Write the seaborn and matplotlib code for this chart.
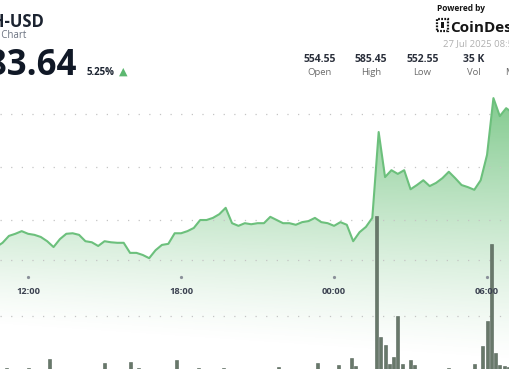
import numpy as np
import pandas as pd
import matplotlib
matplotlib.use("Agg")
import matplotlib.pyplot as plt
import matplotlib.dates as mdates
import matplotlib.transforms as mtransforms
from matplotlib.patches import Rectangle
import seaborn as sns

sns.set_theme(style="white")
plt.rcParams["font.family"] = ["Open Sans", "DejaVu Sans"]

# ---------------- data ----------------
price = [554.9, 555.7, 557.0, 557.4, 557.9, 557.4, 557.2, 556.8, 556.0, 554.9,
         556.4, 557.4, 557.5, 557.2, 556.0, 555.8, 555.1, 556.0, 555.8, 555.7,
         555.7, 553.8, 553.8, 553.4, 552.8, 554.3, 555.3, 555.5, 557.5, 557.5,
         557.9, 558.5, 560.0, 560.0, 560.4, 561.1, 562.3, 559.4, 558.9, 559.4,
         559.2, 559.4, 559.4, 560.6, 560.0, 559.4, 559.4, 559.1, 559.6, 559.8,
         560.4, 559.6, 559.4, 558.9, 559.6, 559.1, 556.0, 557.7, 558.7, 560.4,
         576.6, 568.1, 569.4, 568.7, 569.4, 565.8, 566.6, 567.5, 566.4, 567.0,
         567.9, 569.1, 567.9, 566.6, 566.2, 565.7, 567.5, 572.3, 583.0, 579.6,
         581.1, 580.2]
price_times = pd.date_range("2025-07-26 10:45", periods=len(price), freq="15min")

volume = [30, 70, 25, 35, 30, 20, 70, 30, 40, 60,
          30, 232, 35, 25, 30, 40, 30, 20, 30, 35,
          30, 25, 40, 30, 161, 30, 35, 25, 30, 40,
          179, 30, 70, 35, 25, 30, 40, 30, 20, 30,
          35, 214, 30, 25, 40, 30, 70, 30, 35, 25,
          30, 40, 70, 60, 30, 25, 35, 30, 40, 30,
          20, 30, 35, 25, 40, 89, 30, 25, 35, 30,
          40, 30, 25, 35, 161, 30, 40, 25, 30, 125,
          35, 30, 250, 107, 40, 30, 25, 35, 2790, 625,
          482, 140, 268, 1000, 140, 40, 214, 125, 35, 30,
          25, 40, 30, 35, 30, 70, 25, 40, 30, 35,
          60, 140, 40, 464, 911, 2286, 339, 125, 107, 89]
vol_times = pd.date_range("2025-07-26 11:00", periods=len(volume), freq="10min")

tick_times = pd.to_datetime(["2025-07-26 12:00", "2025-07-26 18:00",
                             "2025-07-27 00:00", "2025-07-27 06:00"])
tick_labels = ["12:00", "18:00", "00:00", "06:00"]

price_grid = [560, 570, 580]
vol_grid = [1000, 2000]

stats_values = ["554.55", "585.45", "552.55", "35 K", "11.5 B"]
stats_labels = ["Open", "High", "Low", "Vol", "Mkt Cap"]

# ---------------- figure ----------------
W, H = 510, 369
fig = plt.figure(figsize=(W / 100, H / 100), dpi=100)
fig.patch.set_facecolor("white")
ax = fig.add_axes([0, 0, 1, 1])
ax.set_facecolor("white")

LINE = "#6cc07c"
GREEN = np.array([92, 186, 108]) / 255

# gradient image clipped to area under line
yy, xx = np.mgrid[0:H, 0:W] + 0.5
b = 327 + 35 * xx / W
u = np.clip((b - yy) / (b - 95), 0, 1)
rgba = np.zeros((H, W, 4))
rgba[..., :3] = GREEN
rgba[..., 3] = 0.78 * u ** 1.25
im = ax.imshow(rgba, extent=(0, 1, 0, 1), transform=ax.transAxes,
               origin="upper", aspect="auto", zorder=1, interpolation="bilinear")

poly = ax.fill_between(price_times, price, 500, color="none", linewidth=0)
im.set_clip_path(poly.get_paths()[0], transform=ax.transData)

sns.lineplot(x=price_times, y=price, ax=ax, color=LINE, linewidth=1.5, zorder=4)

x0 = pd.Timestamp("2025-07-26 10:54")
x1 = pd.Timestamp("2025-07-27 06:54")
ax.set_xlim(x0, x1)
ax.set_ylim(531.89, 601.51)
ax.set_yticks(price_grid)
ax.set_axisbelow(False)
ax.grid(axis="y", color="#c4c4c4", linestyle=(0, (1, 7.5)), linewidth=0.9)
ax.grid(axis="x", visible=False)
ax.tick_params(left=False, bottom=False, labelleft=False, labelbottom=False)
for s in ax.spines.values():
    s.set_visible(False)
ax.set_xlabel("")
ax.set_ylabel("")

# volume bars
ax2 = ax.twinx()
ax2.bar(mdates.date2num(vol_times), volume, width=7 / 1440,
        color="#68786a", edgecolor="#55645a", linewidth=0.4, zorder=3)
ax2.set_ylim(53.6, 6643)
ax2.set_yticks(vol_grid)
ax2.grid(axis="y", color="#c4c4c4", linestyle=(0, (1, 7.5)), linewidth=0.9)
ax2.grid(axis="x", visible=False)
ax2.tick_params(right=False, labelright=False, bottom=False, labelbottom=False)
for s in ax2.spines.values():
    s.set_visible(False)
ax2.set_xlim(mdates.date2num(x0), mdates.date2num(x1))

# time ticks
blend = mtransforms.blended_transform_factory(ax2.transData, ax2.transAxes)
for t, lab in zip(tick_times, tick_labels):
    tn = mdates.date2num(t)
    ax2.plot([tn], [1 - 277 / H], transform=blend, marker="o", markersize=1.3,
             color="#8a9099", zorder=6, clip_on=False)
    ax2.text(tn, 1 - 292 / H, lab, transform=blend, ha="center", va="center",
             fontsize=6.7, fontweight="bold", color="#3b4150", zorder=7)

# ---------------- header ----------------
def fx(x):
    return x / W

def fy(y):
    return 1 - y / H

DARK = "#101826"
fig.text(fx(44), fy(27), "BCH-USD", ha="right", va="baseline", fontsize=12,
         fontweight="bold", color="#1b2330")
fig.text(fx(26), fy(38), "24 Hour Chart", ha="right", va="baseline", fontsize=7,
         color="#6b7280")
fig.text(fx(77), fy(75), "583.64", ha="right", va="baseline", fontsize=25,
         fontweight="bold", color=DARK)
fig.text(fx(87), fy(75), "5.25%", ha="left", va="baseline", fontsize=7,
         fontweight="bold", color="#1b2330")
fig.text(fx(123), fy(72), "\u25B2", ha="center", va="center", fontsize=8,
         color="#5cb870", family="DejaVu Sans")

fig.text(fx(437), fy(11), "Powered by", ha="left", va="baseline", fontsize=6,
         fontweight="bold", color="#151515")
fig.patches.append(Rectangle((fx(437), fy(31)), 11 / W, 12 / H, fill=False,
                             linewidth=1.6, linestyle=(0, (0.8, 0.6)),
                             edgecolor="#151515", transform=fig.transFigure,
                             figure=fig))
fig.patches.append(Rectangle((fx(441), fy(28)), 3 / W, 6 / H, fill=True,
                             linewidth=0, facecolor="#151515",
                             transform=fig.transFigure, figure=fig))
fig.text(fx(450), fy(32), "CoinDesk", ha="left", va="baseline", fontsize=11,
         fontweight="bold", color="#151515")
fig.text(fx(443), fy(46), "27 Jul 2025 08:55 UTC", ha="left", va="baseline",
         fontsize=6.8, color="#b0b0b0")

centers = [320, 371, 422.5, 474, 524]
for cx, v, lab in zip(centers, stats_values, stats_labels):
    fig.text(fx(cx), fy(62), v, ha="center", va="baseline", fontsize=7.5,
             fontweight="bold", color="#2a2f3b")
    fig.text(fx(cx), fy(75), lab, ha="center", va="baseline", fontsize=6.8,
             color="#6b6b6b")

fig.savefig("out.png", dpi=100, facecolor="white")
